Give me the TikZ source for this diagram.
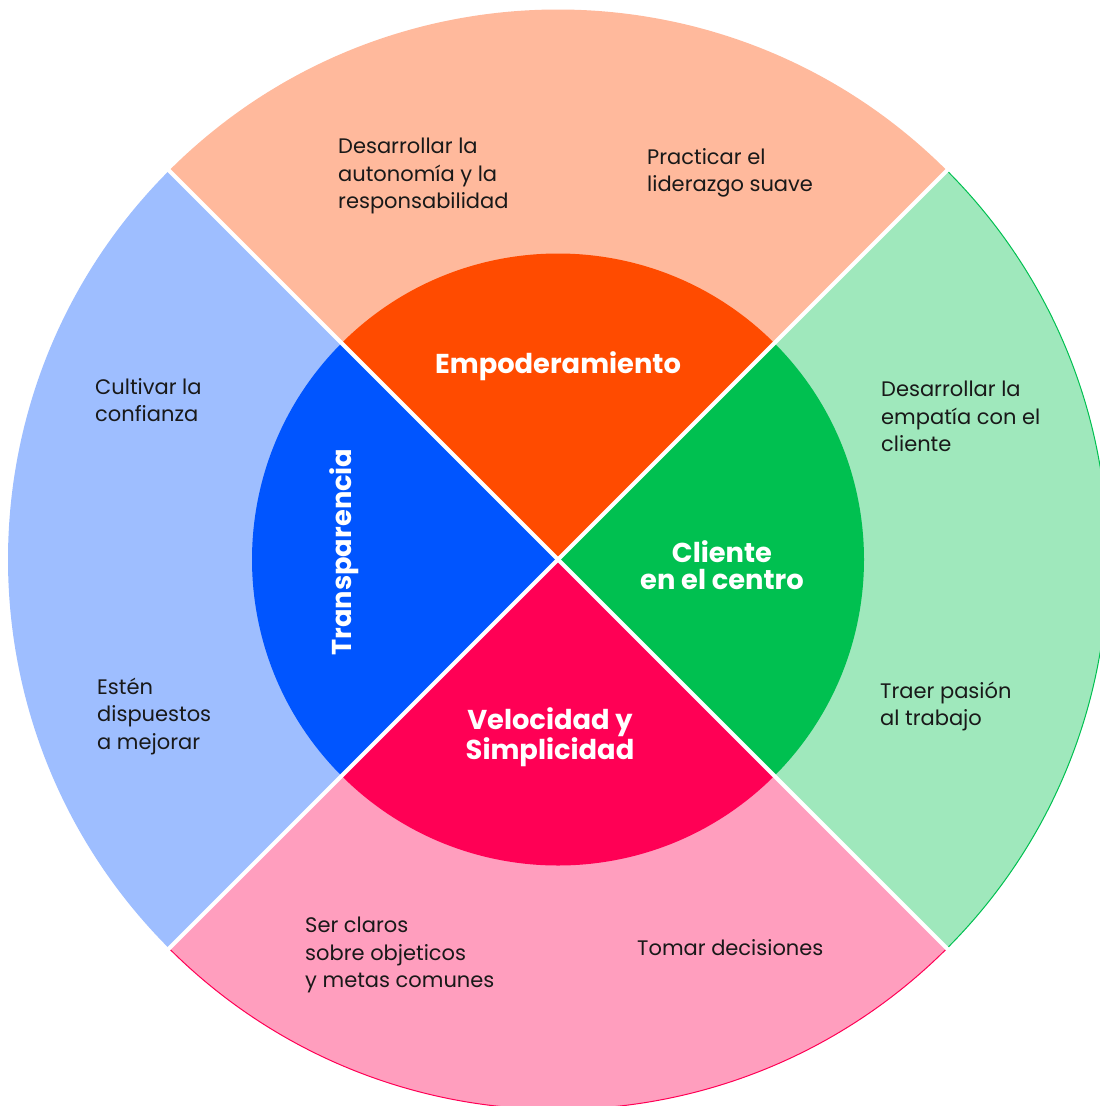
\documentclass[tikz,border=0pt]{standalone}
\usepackage{fontspec}
\setmainfont{Poppins}
\definecolor{peach}{HTML}{FFB99C}
\definecolor{orangec}{HTML}{FF4B00}
\definecolor{lgreen}{HTML}{9FE8BC}
\definecolor{dgreen}{HTML}{00C050}
\definecolor{lpink}{HTML}{FF9EBE}
\definecolor{dpink}{HTML}{FF0055}
\definecolor{lblue}{HTML}{9EBEFF}
\definecolor{dblue}{HTML}{0055FF}
\begin{document}
\begin{tikzpicture}[x=1pt,y=-1pt,
  small/.style={font=\fontsize{21}{27.5}\selectfont, text=black!90, align=left, anchor=west, inner sep=0pt},
  big/.style={font=\fontsize{27.3}{27}\selectfont\bfseries, text=white, align=center, inner sep=0pt}]
\useasboundingbox (0,0) rectangle (1100,1106);
\coordinate (c) at (558,559.5);
\begin{scope}[shift={(c)},y=1pt]
  \fill[peach] (0,0) -- (45:550) arc (45:135:550) -- cycle;
  \fill[lblue] (0,0) -- (135:550) arc (135:225:550) -- cycle;
  \fill[lpink] (0,0) -- (225:550) arc (225:315:550) -- cycle;
  \fill[lgreen] (0,0) -- (-45:550) arc (-45:45:550) -- cycle;
  \draw[dgreen, line width=1pt] (-45:550) arc (-45:45:550);
  \draw[dpink, line width=1pt] (225:550) arc (225:315:550);
  \fill[orangec] (0,0) -- (45:306) arc (45:135:306) -- cycle;
  \fill[dblue] (0,0) -- (135:306) arc (135:225:306) -- cycle;
  \fill[dpink] (0,0) -- (225:306) arc (225:315:306) -- cycle;
  \fill[dgreen] (0,0) -- (-45:306) arc (-45:45:306) -- cycle;
  \draw[white, line width=4pt] (135:552) -- (-45:552);
  \draw[white, line width=4pt] (45:552) -- (225:552);
\end{scope}
% texts
\node[small] (t1) at (338,176) {Desarrollar la\\autonomía y la\\responsabilidad};
\node[small] (t2) at (647,173) {Practicar el\\liderazgo suave};
\node[small] (t3) at (95,400) {Cultivar la\\confianza};
\node[small] (t4) at (97,716.5) {Estén\\dispuestos\\a mejorar};
\node[small] (t5) at (881,416.5) {Desarrollar la\\empatía con el\\cliente};
\node[small] (t6) at (880,706.5) {Traer pasión\\al trabajo};
\node[small] (t7) at (305,955) {Ser claros\\sobre objeticos\\y metas comunes};
\node[small] (t8) at (637,948) {Tomar decisiones};
\node[big] (b1) at (558,366) {Empoderamiento};
\node[big, rotate=90] (b2) at (344,552) {Transparencia};
\node[big] (b3) at (722,565) {Cliente\\en el centro};
\node[big] (b4) at (550,737) {Velocidad y\\Simplicidad};
\end{tikzpicture}
\end{document}
